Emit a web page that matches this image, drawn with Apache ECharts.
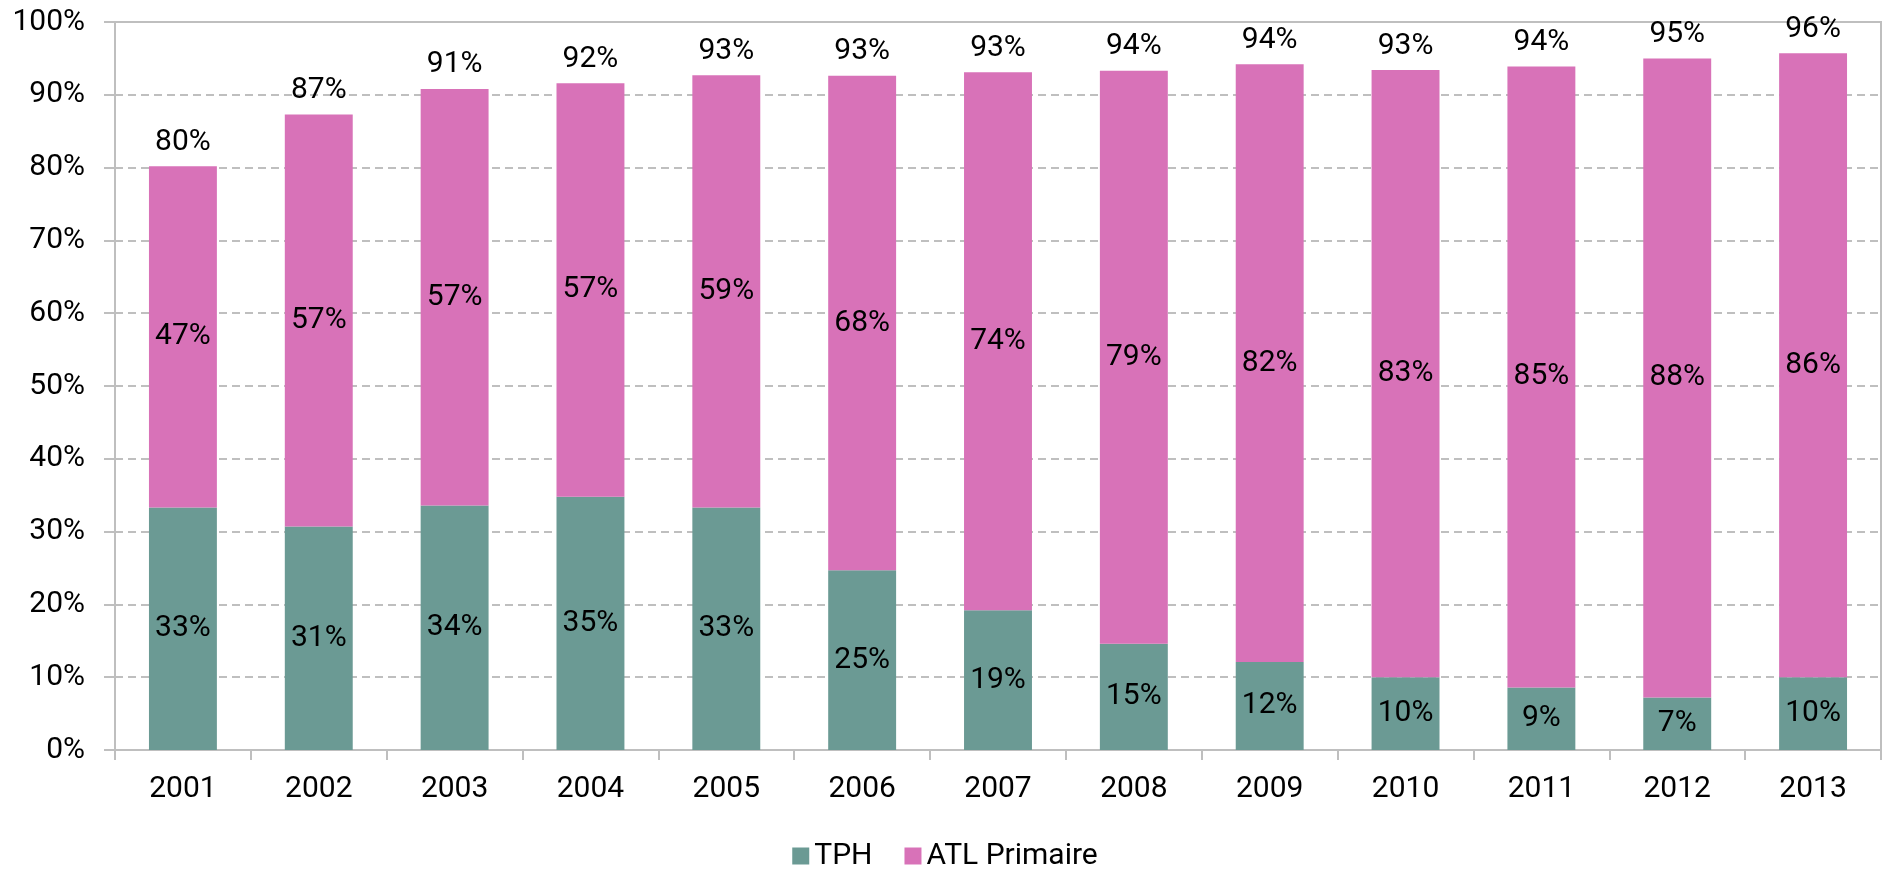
<!DOCTYPE html>
<html>
<head>
<meta charset="utf-8">
<script src="https://cdn.jsdelivr.net/npm/echarts@6/dist/echarts.min.js"></script>
<style>
    html, body { margin: 0; padding: 0; background: #fff; }
    #chart { width: 1890px; height: 869px; }
</style>
</head>
<body>
<div id="chart"></div>
<script>
    // années
    var years = ['2001', '2002', '2003', '2004', '2005', '2006', '2007', '2008', '2009', '2010', '2011', '2012', '2013'];
    // parts (en %)
    var tph = [33.3, 30.7, 33.6, 34.8, 33.3, 24.7, 19.2, 14.6, 12.1, 10.0, 8.6, 7.2, 10.0];
    var atlPrimaire = [46.9, 56.6, 57.2, 56.8, 59.4, 67.9, 73.9, 78.7, 82.1, 83.4, 85.3, 87.8, 85.7];
    // totaux affichés au-dessus des barres
    var totalLabels = [80, 87, 91, 92, 93, 93, 93, 94, 94, 93, 94, 95, 96];
    var yTicks = [0, 10, 20, 30, 40, 50, 60, 70, 80, 90, 100];

    var totals = [];
    for (var i = 0; i < years.length; i++) {
        totals.push(Math.round((tph[i] + atlPrimaire[i]) * 10) / 10);
    }

    var police = 'Roboto, "Liberation Sans", sans-serif';
    var gris = '#BFBFBF';
    var pct = function (p) { return Math.round(p.value) + '%'; };

    var chart = echarts.init(document.getElementById('chart'));
    var option = {
        animation: false,
        textStyle: { fontFamily: police },
        grid: {
            left: 115, right: 9, top: 22, bottom: 119,
            show: true, borderColor: gris, borderWidth: 2
        },
        legend: {
            data: ['TPH', 'ATL Primaire'],
            left: 'center',
            top: 836,
            icon: 'rect',
            itemWidth: 17,
            itemHeight: 17,
            itemGap: 32,
            textStyle: { fontSize: 30, color: '#000', fontFamily: police }
        },
        xAxis: {
            type: 'category',
            data: years,
            axisLine: { lineStyle: { color: gris, width: 2 } },
            axisTick: { show: true, length: 10, lineStyle: { color: gris, width: 2 } },
            axisLabel: { color: '#000', fontSize: 30, margin: 24, fontFamily: police }
        },
        yAxis: {
            type: 'value',
            min: yTicks[0],
            max: yTicks[yTicks.length - 1],
            interval: yTicks[1] - yTicks[0],
            axisLine: { show: true, lineStyle: { color: gris, width: 2 } },
            axisTick: { show: true, length: 11, lineStyle: { color: gris, width: 2 } },
            axisLabel: { color: '#000', fontSize: 30, margin: 30, formatter: '{value}%', fontFamily: police },
            splitLine: { lineStyle: { color: gris, width: 2, type: [8, 5] } }
        },
        series: [
            {
                name: 'TPH',
                type: 'bar',
                stack: 'total',
                barWidth: '50%',
                itemStyle: { color: '#6B9A94' },
                label: { show: true, position: 'inside', color: '#000', fontSize: 30, formatter: pct, fontFamily: police },
                data: tph
            },
            {
                name: 'ATL Primaire',
                type: 'bar',
                stack: 'total',
                barWidth: '50%',
                itemStyle: { color: '#D872B8' },
                label: { show: true, position: 'inside', color: '#000', fontSize: 30, formatter: pct, fontFamily: police },
                data: atlPrimaire
            },
            {
                // étiquettes des totaux au-dessus des barres
                name: 'Total',
                type: 'scatter',
                symbol: 'rect',
                symbolSize: 2,
                z: 10,
                silent: true,
                itemStyle: { color: 'rgba(255,255,255,0)', opacity: 1 },
                label: {
                    show: true, position: 'top', distance: 8, color: '#000', opacity: 1,
                    fontSize: 30, fontFamily: police,
                    formatter: function (p) { return totalLabels[p.dataIndex] + '%'; }
                },
                data: totals
            }
        ]
    };
    chart.setOption(option);
    window.onresize = function () {
        chart.resize();
    };
</script>
</body>
</html>
